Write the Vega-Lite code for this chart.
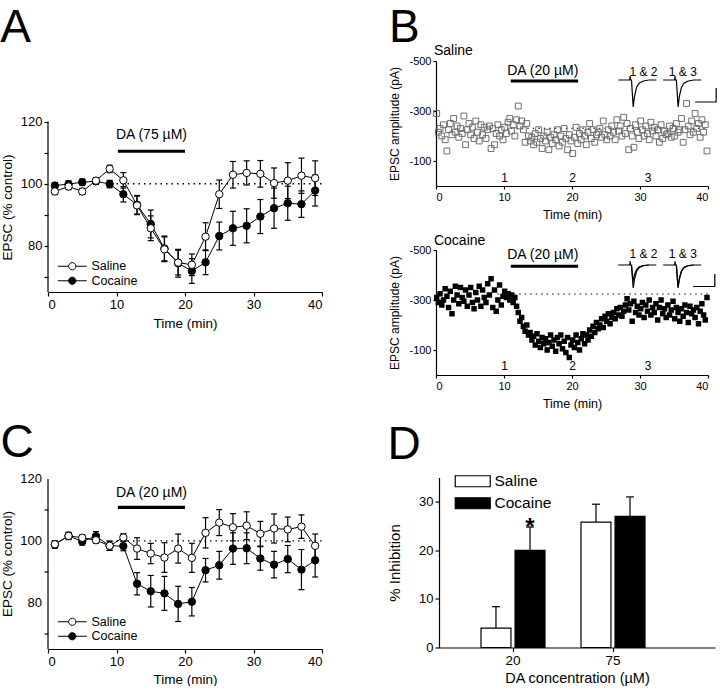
{
"$schema":"https://vega.github.io/schema/vega-lite/v6.json",
"padding":{"left":0,"top":4,"right":0,"bottom":0},
"config":{
 "font":"Liberation Sans",
 "view":{"stroke":null},
 "axis":{"grid":false,"labelOverlap":false,"domainColor":"black","tickColor":"black","labelColor":"black","titleColor":"black","titleFontWeight":"normal","labelFontSize":13,"titleFontSize":13.5,"tickSize":4,"labelPadding":2,"domainWidth":1.2,"tickWidth":1.2,"labelFont":"Liberation Sans","titleFont":"Liberation Sans"},
 "title":{"fontWeight":"normal","anchor":"start","color":"black","font":"Liberation Sans"},
 "legend":{"labelColor":"black","padding":0,"labelFont":"Liberation Sans"},
 "text":{"color":"black","font":"Liberation Sans"}
},
"datasets":{
 "bsal":[
{"t":0.1,"a":-290},{"t":0.35,"a":-215},{"t":0.6,"a":-230},{"t":0.85,"a":-200},{"t":1.1,"a":-245},{"t":1.35,"a":-185},{"t":1.6,"a":-140},{"t":1.85,"a":-225},
{"t":2.1,"a":-250},{"t":2.35,"a":-205},{"t":2.6,"a":-270},{"t":2.85,"a":-215},{"t":3.1,"a":-240},{"t":3.35,"a":-195},{"t":3.6,"a":-230},{"t":3.85,"a":-210},
{"t":4.1,"a":-280},{"t":4.35,"a":-165},{"t":4.6,"a":-225},{"t":4.85,"a":-250},{"t":5.1,"a":-205},{"t":5.35,"a":-235},{"t":5.6,"a":-190},{"t":5.85,"a":-260},
{"t":6.1,"a":-215},{"t":6.35,"a":-180},{"t":6.6,"a":-245},{"t":6.85,"a":-205},{"t":7.1,"a":-235},{"t":7.35,"a":-190},{"t":7.6,"a":-225},{"t":7.85,"a":-240},
{"t":8.1,"a":-150},{"t":8.35,"a":-230},{"t":8.6,"a":-165},{"t":8.85,"a":-210},{"t":9.1,"a":-245},{"t":9.35,"a":-200},{"t":9.6,"a":-225},{"t":9.85,"a":-185},
{"t":10.1,"a":-235},{"t":10.35,"a":-210},{"t":10.6,"a":-255},{"t":10.85,"a":-270},{"t":11.1,"a":-220},{"t":11.35,"a":-245},{"t":11.6,"a":-200},{"t":11.85,"a":-265},
{"t":12.1,"a":-320},{"t":12.35,"a":-240},{"t":12.6,"a":-260},{"t":12.85,"a":-225},{"t":13.1,"a":-175},{"t":13.35,"a":-250},{"t":13.6,"a":-200},{"t":13.85,"a":-180},
{"t":14.1,"a":-195},{"t":14.35,"a":-165},{"t":14.6,"a":-210},{"t":14.85,"a":-175},{"t":15.1,"a":-225},{"t":15.35,"a":-190},{"t":15.6,"a":-150},{"t":15.85,"a":-200},
{"t":16.1,"a":-180},{"t":16.35,"a":-215},{"t":16.6,"a":-145},{"t":16.85,"a":-195},{"t":17.1,"a":-170},{"t":17.35,"a":-205},{"t":17.6,"a":-185},{"t":17.85,"a":-225},
{"t":18.1,"a":-160},{"t":18.35,"a":-200},{"t":18.6,"a":-175},{"t":18.85,"a":-230},{"t":19.1,"a":-190},{"t":19.35,"a":-145},{"t":19.6,"a":-205},{"t":19.85,"a":-180},
{"t":20.1,"a":-130},{"t":20.35,"a":-195},{"t":20.6,"a":-235},{"t":20.85,"a":-170},{"t":21.1,"a":-210},{"t":21.35,"a":-185},{"t":21.6,"a":-225},{"t":21.85,"a":-200},
{"t":22.1,"a":-165},{"t":22.35,"a":-215},{"t":22.6,"a":-250},{"t":22.85,"a":-190},{"t":23.1,"a":-225},{"t":23.35,"a":-175},{"t":23.6,"a":-205},{"t":23.85,"a":-215},
{"t":24.1,"a":-230},{"t":24.35,"a":-195},{"t":24.6,"a":-260},{"t":24.85,"a":-205},{"t":25.1,"a":-185},{"t":25.35,"a":-225},{"t":25.6,"a":-200},{"t":25.85,"a":-240},
{"t":26.1,"a":-215},{"t":26.35,"a":-185},{"t":26.6,"a":-265},{"t":26.85,"a":-220},{"t":27.1,"a":-240},{"t":27.35,"a":-200},{"t":27.6,"a":-275},{"t":27.85,"a":-210},
{"t":28.1,"a":-250},{"t":28.35,"a":-145},{"t":28.6,"a":-230},{"t":28.85,"a":-200},{"t":29.1,"a":-155},{"t":29.35,"a":-245},{"t":29.6,"a":-215},{"t":29.85,"a":-190},
{"t":30.1,"a":-260},{"t":30.35,"a":-225},{"t":30.6,"a":-200},{"t":30.85,"a":-240},{"t":31.1,"a":-210},{"t":31.35,"a":-185},{"t":31.6,"a":-255},{"t":31.85,"a":-220},
{"t":32.1,"a":-235},{"t":32.35,"a":-200},{"t":32.6,"a":-225},{"t":32.85,"a":-175},{"t":33.1,"a":-245},{"t":33.35,"a":-190},{"t":33.6,"a":-220},{"t":33.85,"a":-205},
{"t":34.1,"a":-210},{"t":34.35,"a":-240},{"t":34.6,"a":-195},{"t":34.85,"a":-230},{"t":35.1,"a":-200},{"t":35.35,"a":-250},{"t":35.6,"a":-215},{"t":35.85,"a":-225},
{"t":36.1,"a":-270},{"t":36.35,"a":-175},{"t":36.6,"a":-225},{"t":36.85,"a":-330},{"t":37.1,"a":-240},{"t":37.35,"a":-205},{"t":37.6,"a":-260},{"t":37.85,"a":-215},
{"t":38.1,"a":-290},{"t":38.35,"a":-230},{"t":38.6,"a":-250},{"t":38.85,"a":-195},{"t":39.1,"a":-265},{"t":39.35,"a":-215},{"t":39.6,"a":-245},{"t":39.85,"a":-140}
 ],
 "bcoc":[
{"t":0.1,"a":-310},{"t":0.35,"a":-290},{"t":0.6,"a":-325},{"t":0.85,"a":-280},{"t":1.1,"a":-300},{"t":1.35,"a":-345},{"t":1.6,"a":-315},{"t":1.85,"a":-270},
{"t":2.1,"a":-335},{"t":2.35,"a":-245},{"t":2.6,"a":-300},{"t":2.85,"a":-355},{"t":3.1,"a":-320},{"t":3.35,"a":-285},{"t":3.6,"a":-350},{"t":3.85,"a":-310},
{"t":4.1,"a":-295},{"t":4.35,"a":-340},{"t":4.6,"a":-275},{"t":4.85,"a":-320},{"t":5.1,"a":-350},{"t":5.35,"a":-290},{"t":5.6,"a":-265},{"t":5.85,"a":-330},
{"t":6.1,"a":-300},{"t":6.35,"a":-355},{"t":6.6,"a":-275},{"t":6.85,"a":-340},{"t":7.1,"a":-310},{"t":7.35,"a":-290},{"t":7.6,"a":-365},{"t":7.85,"a":-320},
{"t":8.1,"a":-385},{"t":8.35,"a":-270},{"t":8.6,"a":-340},{"t":8.85,"a":-255},{"t":9.1,"a":-300},{"t":9.35,"a":-360},{"t":9.6,"a":-280},{"t":9.85,"a":-315},
{"t":10.1,"a":-335},{"t":10.35,"a":-310},{"t":10.6,"a":-325},{"t":10.85,"a":-300},{"t":11.1,"a":-320},{"t":11.35,"a":-290},{"t":11.6,"a":-310},{"t":11.85,"a":-275},
{"t":12.1,"a":-250},{"t":12.35,"a":-215},{"t":12.6,"a":-230},{"t":12.85,"a":-195},{"t":13.1,"a":-175},{"t":13.35,"a":-200},{"t":13.6,"a":-160},{"t":13.85,"a":-170},
{"t":14.1,"a":-140},{"t":14.35,"a":-155},{"t":14.6,"a":-120},{"t":14.85,"a":-165},{"t":15.1,"a":-135},{"t":15.35,"a":-110},{"t":15.6,"a":-150},{"t":15.85,"a":-125},
{"t":16.1,"a":-145},{"t":16.35,"a":-100},{"t":16.6,"a":-130},{"t":16.85,"a":-160},{"t":17.1,"a":-115},{"t":17.35,"a":-140},{"t":17.6,"a":-95},{"t":17.85,"a":-150},
{"t":18.1,"a":-125},{"t":18.35,"a":-160},{"t":18.6,"a":-105},{"t":18.85,"a":-135},{"t":19.1,"a":-90},{"t":19.35,"a":-150},{"t":19.6,"a":-70},{"t":19.85,"a":-120},
{"t":20.1,"a":-140},{"t":20.35,"a":-110},{"t":20.6,"a":-160},{"t":20.85,"a":-130},{"t":21.1,"a":-100},{"t":21.35,"a":-145},{"t":21.6,"a":-165},{"t":21.85,"a":-125},
{"t":22.1,"a":-160},{"t":22.35,"a":-140},{"t":22.6,"a":-180},{"t":22.85,"a":-155},{"t":23.1,"a":-195},{"t":23.35,"a":-170},{"t":23.6,"a":-210},{"t":23.85,"a":-185},
{"t":24.1,"a":-200},{"t":24.35,"a":-225},{"t":24.6,"a":-190},{"t":24.85,"a":-235},{"t":25.1,"a":-215},{"t":25.35,"a":-245},{"t":25.6,"a":-205},{"t":25.85,"a":-230},
{"t":26.1,"a":-250},{"t":26.35,"a":-225},{"t":26.6,"a":-265},{"t":26.85,"a":-240},{"t":27.1,"a":-270},{"t":27.35,"a":-235},{"t":27.6,"a":-255},{"t":27.85,"a":-280},
{"t":28.1,"a":-305},{"t":28.35,"a":-260},{"t":28.6,"a":-285},{"t":28.85,"a":-215},{"t":29.1,"a":-295},{"t":29.35,"a":-250},{"t":29.6,"a":-275},{"t":29.85,"a":-240},
{"t":30.1,"a":-265},{"t":30.35,"a":-290},{"t":30.6,"a":-230},{"t":30.85,"a":-280},{"t":31.1,"a":-255},{"t":31.35,"a":-300},{"t":31.6,"a":-240},{"t":31.85,"a":-270},
{"t":32.1,"a":-250},{"t":32.35,"a":-285},{"t":32.6,"a":-220},{"t":32.85,"a":-270},{"t":33.1,"a":-300},{"t":33.35,"a":-245},{"t":33.6,"a":-265},{"t":33.85,"a":-230},
{"t":34.1,"a":-280},{"t":34.35,"a":-240},{"t":34.6,"a":-260},{"t":34.85,"a":-295},{"t":35.1,"a":-225},{"t":35.35,"a":-270},{"t":35.6,"a":-250},{"t":35.85,"a":-215},
{"t":36.1,"a":-265},{"t":36.35,"a":-235},{"t":36.6,"a":-280},{"t":36.85,"a":-250},{"t":37.1,"a":-210},{"t":37.35,"a":-275},{"t":37.6,"a":-245},{"t":37.85,"a":-260},
{"t":38.1,"a":-230},{"t":38.35,"a":-270},{"t":38.6,"a":-205},{"t":38.85,"a":-255},{"t":39.1,"a":-285},{"t":39.35,"a":-240},{"t":39.6,"a":-220},{"t":39.85,"a":-310}
 ],
 "traceS":[
{"id":"s12","o":1,"t":26.8,"a":-424},{"id":"s12","o":2,"t":28.5,"a":-424},{"id":"s12","o":3,"t":28.55,"a":-440},{"id":"s12","o":4,"t":28.6,"a":-424},{"id":"s12","o":5,"t":28.75,"a":-424},{"id":"s12","o":6,"t":29.0,"a":-316},{"id":"s12","o":7,"t":29.2,"a":-360},{"id":"s12","o":8,"t":29.5,"a":-395},{"id":"s12","o":9,"t":29.9,"a":-412},{"id":"s12","o":10,"t":30.5,"a":-420},{"id":"s12","o":11,"t":31.3,"a":-424},{"id":"s12","o":12,"t":32.4,"a":-424},
{"id":"s13","o":1,"t":33.4,"a":-424},{"id":"s13","o":2,"t":35.1,"a":-424},{"id":"s13","o":3,"t":35.15,"a":-440},{"id":"s13","o":4,"t":35.2,"a":-424},{"id":"s13","o":5,"t":35.35,"a":-424},{"id":"s13","o":6,"t":35.6,"a":-316},{"id":"s13","o":7,"t":35.8,"a":-360},{"id":"s13","o":8,"t":36.1,"a":-395},{"id":"s13","o":9,"t":36.5,"a":-412},{"id":"s13","o":10,"t":37.1,"a":-420},{"id":"s13","o":11,"t":37.9,"a":-424},{"id":"s13","o":12,"t":39.0,"a":-424},
{"id":"ssb","o":1,"t":38.1,"a":-336},{"id":"ssb","o":2,"t":41.2,"a":-336},{"id":"ssb","o":3,"t":41.2,"a":-392}
 ],
 "traceC":[
{"id":"c12a","o":1,"t":26.8,"a":-440},{"id":"c12a","o":2,"t":28.5,"a":-440},{"id":"c12a","o":3,"t":28.55,"a":-455},{"id":"c12a","o":4,"t":28.6,"a":-440},{"id":"c12a","o":5,"t":28.75,"a":-440},{"id":"c12a","o":6,"t":29.0,"a":-348},{"id":"c12a","o":7,"t":29.2,"a":-385},{"id":"c12a","o":8,"t":29.5,"a":-415},{"id":"c12a","o":9,"t":29.9,"a":-430},{"id":"c12a","o":10,"t":30.5,"a":-437},{"id":"c12a","o":11,"t":31.3,"a":-440},{"id":"c12a","o":12,"t":32.4,"a":-440},
{"id":"c12b","o":1,"t":28.75,"a":-440},{"id":"c12b","o":2,"t":28.95,"a":-376},{"id":"c12b","o":3,"t":29.2,"a":-402},{"id":"c12b","o":4,"t":29.5,"a":-422},{"id":"c12b","o":5,"t":29.9,"a":-433},{"id":"c12b","o":6,"t":30.5,"a":-438},{"id":"c12b","o":7,"t":31.3,"a":-440},
{"id":"c13a","o":1,"t":33.4,"a":-440},{"id":"c13a","o":2,"t":35.1,"a":-440},{"id":"c13a","o":3,"t":35.15,"a":-455},{"id":"c13a","o":4,"t":35.2,"a":-440},{"id":"c13a","o":5,"t":35.35,"a":-440},{"id":"c13a","o":6,"t":35.6,"a":-348},{"id":"c13a","o":7,"t":35.8,"a":-385},{"id":"c13a","o":8,"t":36.1,"a":-415},{"id":"c13a","o":9,"t":36.5,"a":-430},{"id":"c13a","o":10,"t":37.1,"a":-437},{"id":"c13a","o":11,"t":37.9,"a":-440},{"id":"c13a","o":12,"t":39.0,"a":-440},
{"id":"c13b","o":1,"t":35.35,"a":-440},{"id":"c13b","o":2,"t":35.58,"a":-352},{"id":"c13b","o":3,"t":35.8,"a":-388},{"id":"c13b","o":4,"t":36.1,"a":-417},{"id":"c13b","o":5,"t":36.5,"a":-431},{"id":"c13b","o":6,"t":37.1,"a":-438},{"id":"c13b","o":7,"t":37.9,"a":-440},
{"id":"csb","o":1,"t":37.8,"a":-354},{"id":"csb","o":2,"t":41.0,"a":-354},{"id":"csb","o":3,"t":41.0,"a":-404}
 ],
 "dA":[
{"t":1,"v":99.4,"lo":98.4,"hi":100.4,"g":"Cocaine"},{"t":3,"v":99.9,"lo":98.9,"hi":100.9,"g":"Cocaine"},{"t":5,"v":100.5,"lo":99.5,"hi":101.5,"g":"Cocaine"},{"t":7,"v":100.8,"lo":99.8,"hi":101.8,"g":"Cocaine"},{"t":9,"v":99.9,"lo":98.7,"hi":101.1,"g":"Cocaine"},{"t":11,"v":96.6,"lo":94.1,"hi":99.1,"g":"Cocaine"},{"t":13,"v":93.2,"lo":90.2,"hi":96.2,"g":"Cocaine"},{"t":15,"v":87,"lo":82.5,"hi":91.5,"g":"Cocaine"},{"t":17,"v":79.1,"lo":75.1,"hi":83.1,"g":"Cocaine"},{"t":19,"v":74.3,"lo":69.8,"hi":78.8,"g":"Cocaine"},{"t":21,"v":71.8,"lo":67.8,"hi":75.8,"g":"Cocaine"},{"t":23,"v":74.6,"lo":70.6,"hi":78.6,"g":"Cocaine"},{"t":25,"v":83.1,"lo":78.6,"hi":87.6,"g":"Cocaine"},{"t":27,"v":85.6,"lo":80.1,"hi":91.1,"g":"Cocaine"},{"t":29,"v":86.4,"lo":80.9,"hi":91.9,"g":"Cocaine"},{"t":31,"v":89.4,"lo":83.9,"hi":94.9,"g":"Cocaine"},{"t":33,"v":92.1,"lo":85.6,"hi":98.6,"g":"Cocaine"},{"t":35,"v":93.7,"lo":88.2,"hi":99.2,"g":"Cocaine"},{"t":37,"v":93.4,"lo":89.1,"hi":97.7,"g":"Cocaine"},{"t":39,"v":97.8,"lo":92.8,"hi":102.8,"g":"Cocaine"},
{"t":1,"v":97.5,"lo":96.5,"hi":98.5,"g":"Saline"},{"t":3,"v":99.1,"lo":98.1,"hi":100.1,"g":"Saline"},{"t":5,"v":97.5,"lo":96.5,"hi":98.5,"g":"Saline"},{"t":7,"v":101,"lo":100,"hi":102,"g":"Saline"},{"t":9,"v":104.8,"lo":103.6,"hi":106,"g":"Saline"},{"t":11,"v":101.1,"lo":98.6,"hi":103.6,"g":"Saline"},{"t":13,"v":93,"lo":90,"hi":96,"g":"Saline"},{"t":15,"v":85.6,"lo":81.6,"hi":89.6,"g":"Saline"},{"t":17,"v":78.8,"lo":74.8,"hi":82.8,"g":"Saline"},{"t":19,"v":74.5,"lo":70.5,"hi":78.5,"g":"Saline"},{"t":21,"v":73.8,"lo":70.3,"hi":77.3,"g":"Saline"},{"t":23,"v":82.9,"lo":78.4,"hi":87.4,"g":"Saline"},{"t":25,"v":96.6,"lo":92,"hi":101.2,"g":"Saline"},{"t":27,"v":102.9,"lo":98.6,"hi":107.2,"g":"Saline"},{"t":29,"v":103.5,"lo":99.6,"hi":107.4,"g":"Saline"},{"t":31,"v":103.2,"lo":98.9,"hi":107.5,"g":"Saline"},{"t":33,"v":100.2,"lo":95.3,"hi":105.1,"g":"Saline"},{"t":35,"v":101,"lo":95.2,"hi":106.8,"g":"Saline"},{"t":37,"v":102.6,"lo":96.9,"hi":108.3,"g":"Saline"},{"t":39,"v":101.8,"lo":96.2,"hi":107.4,"g":"Saline"}
 ],
 "dC":[
{"t":1,"v":98.8,"lo":97.6,"hi":100,"g":"Cocaine"},{"t":3,"v":101.6,"lo":100.4,"hi":102.8,"g":"Cocaine"},{"t":5,"v":99.8,"lo":98.6,"hi":101,"g":"Cocaine"},{"t":7,"v":101.5,"lo":100,"hi":103,"g":"Cocaine"},{"t":9,"v":98.4,"lo":96.9,"hi":99.9,"g":"Cocaine"},{"t":11,"v":98.3,"lo":96.8,"hi":99.8,"g":"Cocaine"},{"t":13,"v":86.1,"lo":82.5,"hi":89.7,"g":"Cocaine"},{"t":15,"v":83.7,"lo":78.6,"hi":88.8,"g":"Cocaine"},{"t":17,"v":83,"lo":77.5,"hi":88.5,"g":"Cocaine"},{"t":19,"v":79.6,"lo":73.9,"hi":85.3,"g":"Cocaine"},{"t":21,"v":80.3,"lo":75.7,"hi":84.9,"g":"Cocaine"},{"t":23,"v":90.5,"lo":86.7,"hi":94.3,"g":"Cocaine"},{"t":25,"v":92.1,"lo":87.6,"hi":96.6,"g":"Cocaine"},{"t":27,"v":97.5,"lo":92.4,"hi":102.6,"g":"Cocaine"},{"t":29,"v":97.6,"lo":92.6,"hi":102.6,"g":"Cocaine"},{"t":31,"v":94.3,"lo":90.5,"hi":98.1,"g":"Cocaine"},{"t":33,"v":92.3,"lo":88,"hi":96.6,"g":"Cocaine"},{"t":35,"v":94.1,"lo":89.7,"hi":98.5,"g":"Cocaine"},{"t":37,"v":90.7,"lo":84.2,"hi":97.2,"g":"Cocaine"},{"t":39,"v":93.7,"lo":88.3,"hi":99.1,"g":"Cocaine"},
{"t":1,"v":98.9,"lo":97.9,"hi":99.9,"g":"Saline"},{"t":3,"v":101.6,"lo":100.6,"hi":102.6,"g":"Saline"},{"t":5,"v":101,"lo":100,"hi":102,"g":"Saline"},{"t":7,"v":100.2,"lo":99.2,"hi":101.2,"g":"Saline"},{"t":9,"v":98.4,"lo":96.9,"hi":99.9,"g":"Saline"},{"t":11,"v":101.1,"lo":99.9,"hi":102.3,"g":"Saline"},{"t":13,"v":97.5,"lo":94,"hi":101,"g":"Saline"},{"t":15,"v":95.9,"lo":92.6,"hi":99.2,"g":"Saline"},{"t":17,"v":94.6,"lo":89.8,"hi":99.4,"g":"Saline"},{"t":19,"v":97.5,"lo":92.8,"hi":102.2,"g":"Saline"},{"t":21,"v":94.5,"lo":89.8,"hi":99.2,"g":"Saline"},{"t":23,"v":102.6,"lo":97.7,"hi":107.5,"g":"Saline"},{"t":25,"v":105.9,"lo":101.7,"hi":110.1,"g":"Saline"},{"t":27,"v":104.4,"lo":100,"hi":108.8,"g":"Saline"},{"t":29,"v":104.9,"lo":100.4,"hi":109.4,"g":"Saline"},{"t":31,"v":102.3,"lo":98.3,"hi":106.3,"g":"Saline"},{"t":33,"v":104,"lo":99.3,"hi":108.7,"g":"Saline"},{"t":35,"v":103.7,"lo":99.7,"hi":107.7,"g":"Saline"},{"t":37,"v":104.6,"lo":100.8,"hi":108.4,"g":"Saline"},{"t":39,"v":98.4,"lo":94.6,"hi":102.2,"g":"Saline"}
 ]
},
"spacing":9.5,
"resolve":{"scale":{"fill":"independent"},"legend":{"fill":"independent"}},
"vconcat":[
{
 "spacing":65,
 "resolve":{"scale":{"fill":"independent"},"legend":{"fill":"independent"}},
 "hconcat":[
 {
  "width":274,"height":231,
  "title":{"text":"A","fontSize":46,"offset":9.5,"frame":"bounds"},
  "layer":[
   {"data":{"values":[{"t":0,"v":65,"v2":120}]},"mark":{"type":"rule","strokeWidth":1.2,"color":"black"},
    "encoding":{
     "x":{"field":"t","type":"quantitative","scale":{"domain":[0,40],"nice":false},"axis":{"values":[0,5,10,15,20,25,30,35,40],"labelExpr":"datum.value % 10 == 0 ? datum.label : ''","title":"Time (min)","titlePadding":5,"labelOverlap":false}},
     "y":{"field":"v","type":"quantitative","scale":{"domain":[65,139.68],"nice":false,"zero":false},"axis":{"domain":false,"values":[70,80,90,100,110,120],"labelExpr":"datum.value % 20 == 0 ? datum.label : ''","title":"EPSC (% control)","titlePadding":6,"titleY":146,"labelOverlap":false}},
     "y2":{"field":"v2"}
    }},
   {"data":{"values":[{"t":10,"t2":40,"v":100}]},
    "mark":{"type":"rule","strokeDash":[1.5,4],"strokeWidth":1.3,"color":"black"},
    "encoding":{"x":{"field":"t","type":"quantitative"},"x2":{"field":"t2"},"y":{"field":"v","type":"quantitative"}}},
   {"data":{"values":[{"t":10.2,"t2":20,"v":110.5}]},"mark":{"type":"rule","strokeWidth":3.2,"color":"black"},
    "encoding":{"x":{"field":"t","type":"quantitative"},"x2":{"field":"t2"},"y":{"field":"v","type":"quantitative"}}},
   {"data":{"values":[{"t":15.1,"v":115.9,"s":"DA (75 µM)"}]},"mark":{"type":"text","fontSize":14,"color":"black"},
    "encoding":{"x":{"field":"t","type":"quantitative"},"y":{"field":"v","type":"quantitative"},"text":{"field":"s"}}},
   {"data":{"name":"dA"},
    "layer":[
     {"mark":{"type":"rule","color":"black","strokeWidth":1.2},"encoding":{"x":{"field":"t","type":"quantitative"},"y":{"field":"lo","type":"quantitative"},"y2":{"field":"hi"}}},
     {"mark":{"type":"tick","orient":"horizontal","size":6,"thickness":1.2,"color":"black","opacity":1},"encoding":{"x":{"field":"t","type":"quantitative"},"y":{"field":"lo","type":"quantitative"}}},
     {"mark":{"type":"tick","orient":"horizontal","size":6,"thickness":1.2,"color":"black","opacity":1},"encoding":{"x":{"field":"t","type":"quantitative"},"y":{"field":"hi","type":"quantitative"}}},
     {"mark":{"type":"line","color":"black","strokeWidth":1},"encoding":{"x":{"field":"t","type":"quantitative"},"y":{"field":"v","type":"quantitative"},"detail":{"field":"g"}}},
     {"mark":{"type":"point","shape":"circle","filled":true,"size":55,"stroke":"black","strokeWidth":1,"opacity":1},
      "encoding":{"x":{"field":"t","type":"quantitative"},"y":{"field":"v","type":"quantitative"},
       "fill":{"field":"g","type":"nominal","scale":{"domain":["Saline","Cocaine"],"range":["white","black"]},
        "legend":{"orient":"none","legendX":18,"legendY":199,"title":null,"symbolType":"M-3.6,0H-0.9M0.9,0H3.6M0.9,0A0.9,0.9,0,1,1,-0.9,0A0.9,0.9,0,1,1,0.9,0Z","symbolSize":64,"symbolStrokeColor":"black","symbolStrokeWidth":1,"symbolOpacity":1,"labelFontSize":12.5,"labelOffset":13,"rowPadding":1.5}}}}
    ]}
  ]
 },
 {
  "spacing":12,
  "vconcat":[
  {
   "width":272,"height":125,
   "title":{"text":"B","fontSize":46,"offset":-8.5,"frame":"bounds"},
   "layer":[
    {"data":{"values":[{"t":11,"t2":40,"a":-231}]},"mark":{"type":"rule","strokeDash":[1.5,4],"strokeWidth":1.2,"color":"black"},
     "encoding":{
      "x":{"field":"t","type":"quantitative","scale":{"domain":[0,40],"nice":false},"axis":{"values":[0,5,10,15,20,25,30,35,40],"labelExpr":"datum.value % 10 == 0 ? datum.label : ''","title":"Time (min)","labelFontSize":11,"titleFontSize":12.5,"titlePadding":6,"tickSize":3,"labelOverlap":false}},
      "x2":{"field":"t2"},
      "y":{"field":"a","type":"quantitative","scale":{"domain":[-500,0],"reverse":true,"nice":false},"axis":{"values":[-500,-400,-300,-200,-100,0],"labelExpr":"datum.value == 0 ? '0' : '-' + abs(datum.value)","title":"EPSC amplitude (pA)","labelFontSize":11,"titleFontSize":12,"titlePadding":7,"tickSize":3,"labelOverlap":false}}
     }},
    {"data":{"name":"bsal"},"mark":{"type":"point","shape":"square","filled":false,"size":34,"stroke":"#6e6e6e","strokeWidth":1,"opacity":1},
     "encoding":{"x":{"field":"t","type":"quantitative"},"y":{"field":"a","type":"quantitative"}}},
    {"data":{"values":[{"t":11,"t2":20.9,"a":-420}]},"mark":{"type":"rule","strokeWidth":3.2,"color":"black"},
     "encoding":{"x":{"field":"t","type":"quantitative"},"x2":{"field":"t2"},"y":{"field":"a","type":"quantitative"}}},
    {"data":{"values":[{"t":15.7,"a":-462,"s":"DA (20 µM)"}]},"mark":{"type":"text","fontSize":14},
     "encoding":{"x":{"field":"t","type":"quantitative"},"y":{"field":"a","type":"quantitative"},"text":{"field":"s"}}},
    {"data":{"values":[{"t":-0.3,"a":-542,"s":"Saline"}]},"mark":{"type":"text","fontSize":14,"align":"left"},
     "encoding":{"x":{"field":"t","type":"quantitative"},"y":{"field":"a","type":"quantitative"},"text":{"field":"s"}}},
    {"data":{"values":[{"t":30.5,"a":-457,"s":"1 & 2"},{"t":36.3,"a":-457,"s":"1 & 3"},{"t":10.1,"a":-32,"s":"1"},{"t":20.1,"a":-32,"s":"2"},{"t":31.2,"a":-32,"s":"3"}]},"mark":{"type":"text","fontSize":12},
     "encoding":{"x":{"field":"t","type":"quantitative"},"y":{"field":"a","type":"quantitative"},"text":{"field":"s"}}},
    {"data":{"name":"traceS"},"mark":{"type":"line","color":"black","strokeWidth":1.2},
     "encoding":{"x":{"field":"t","type":"quantitative"},"y":{"field":"a","type":"quantitative"},"detail":{"field":"id"},"order":{"field":"o"}}}
   ]
  },
  {
   "width":272,"height":125,
   "layer":[
    {"data":{"values":[{"t":9,"t2":40,"a":-324}]},"mark":{"type":"rule","strokeDash":[1.5,4],"strokeWidth":1.2,"color":"black"},
     "encoding":{
      "x":{"field":"t","type":"quantitative","scale":{"domain":[0,40],"nice":false},"axis":{"values":[0,5,10,15,20,25,30,35,40],"labelExpr":"datum.value % 10 == 0 ? datum.label : ''","title":"Time (min)","labelFontSize":11,"titleFontSize":12.5,"titlePadding":6,"tickSize":3,"labelOverlap":false}},
      "x2":{"field":"t2"},
      "y":{"field":"a","type":"quantitative","scale":{"domain":[-500,0],"reverse":true,"nice":false},"axis":{"values":[-500,-400,-300,-200,-100,0],"labelExpr":"datum.value == 0 ? '0' : '-' + abs(datum.value)","title":"EPSC amplitude (pA)","labelFontSize":11,"titleFontSize":12,"titlePadding":7,"tickSize":3,"labelOverlap":false}}
     }},
    {"data":{"name":"bcoc"},"mark":{"type":"point","shape":"square","filled":true,"size":30,"color":"black","opacity":1},
     "encoding":{"x":{"field":"t","type":"quantitative"},"y":{"field":"a","type":"quantitative"}}},
    {"data":{"values":[{"t":11,"t2":20.9,"a":-435}]},"mark":{"type":"rule","strokeWidth":3.2,"color":"black"},
     "encoding":{"x":{"field":"t","type":"quantitative"},"x2":{"field":"t2"},"y":{"field":"a","type":"quantitative"}}},
    {"data":{"values":[{"t":15.7,"a":-480,"s":"DA (20 µM)"}]},"mark":{"type":"text","fontSize":14},
     "encoding":{"x":{"field":"t","type":"quantitative"},"y":{"field":"a","type":"quantitative"},"text":{"field":"s"}}},
    {"data":{"values":[{"t":-0.3,"a":-538,"s":"Cocaine"}]},"mark":{"type":"text","fontSize":14,"align":"left"},
     "encoding":{"x":{"field":"t","type":"quantitative"},"y":{"field":"a","type":"quantitative"},"text":{"field":"s"}}},
    {"data":{"values":[{"t":30.5,"a":-486,"s":"1 & 2"},{"t":36.3,"a":-486,"s":"1 & 3"},{"t":10.1,"a":-36,"s":"1"},{"t":20.1,"a":-36,"s":"2"},{"t":31.2,"a":-36,"s":"3"}]},"mark":{"type":"text","fontSize":12},
     "encoding":{"x":{"field":"t","type":"quantitative"},"y":{"field":"a","type":"quantitative"},"text":{"field":"s"}}},
    {"data":{"name":"traceC"},"mark":{"type":"line","color":"black","strokeWidth":1.2},
     "encoding":{"x":{"field":"t","type":"quantitative"},"y":{"field":"a","type":"quantitative"},"detail":{"field":"id"},"order":{"field":"o"}}}
   ]
  }
  ]
 }
 ]
},
{
 "spacing":64,
 "resolve":{"scale":{"fill":"independent"},"legend":{"fill":"independent"}},
 "hconcat":[
 {
  "width":274,"height":171.5,
  "title":{"text":"C","fontSize":46,"offset":6.5,"frame":"bounds"},
  "layer":[
   {"data":{"values":[{"t":0,"v":65,"v2":120}]},"mark":{"type":"rule","strokeWidth":1.2,"color":"black"},
    "encoding":{
     "x":{"field":"t","type":"quantitative","scale":{"domain":[0,40],"nice":false},"axis":{"values":[0,5,10,15,20,25,30,35,40],"labelExpr":"datum.value % 10 == 0 ? datum.label : ''","title":"Time (min)","titlePadding":4,"labelOverlap":false}},
     "y":{"field":"v","type":"quantitative","scale":{"domain":[65,120.5],"nice":false,"zero":false},"axis":{"domain":false,"values":[70,80,90,100,110,120],"labels":false,"title":"EPSC (% control)","titlePadding":29,"titleY":86}},
     "y2":{"field":"v2"}
    }},
   {"data":{"values":[{"v":80,"s":"80"},{"v":100,"s":"100"},{"v":120,"s":"120"}]},"mark":{"type":"text","fontSize":13,"align":"right","baseline":"middle","dx":-6},
    "encoding":{"x":{"datum":0,"type":"quantitative"},"y":{"field":"v","type":"quantitative"},"text":{"field":"s"}}},
   {"data":{"values":[{"t":10,"t2":40,"v":100}]},
    "mark":{"type":"rule","strokeDash":[1.5,4],"strokeWidth":1.3,"color":"black"},
    "encoding":{"x":{"field":"t","type":"quantitative"},"x2":{"field":"t2"},"y":{"field":"v","type":"quantitative"}}},
   {"data":{"values":[{"t":10.2,"t2":20,"v":110.8}]},"mark":{"type":"rule","strokeWidth":3.2,"color":"black"},
    "encoding":{"x":{"field":"t","type":"quantitative"},"x2":{"field":"t2"},"y":{"field":"v","type":"quantitative"}}},
   {"data":{"values":[{"t":15.1,"v":115.4,"s":"DA (20 µM)"}]},"mark":{"type":"text","fontSize":14,"color":"black"},
    "encoding":{"x":{"field":"t","type":"quantitative"},"y":{"field":"v","type":"quantitative"},"text":{"field":"s"}}},
   {"data":{"name":"dC"},
    "layer":[
     {"mark":{"type":"rule","color":"black","strokeWidth":1.2},"encoding":{"x":{"field":"t","type":"quantitative"},"y":{"field":"lo","type":"quantitative"},"y2":{"field":"hi"}}},
     {"mark":{"type":"tick","orient":"horizontal","size":6,"thickness":1.2,"color":"black","opacity":1},"encoding":{"x":{"field":"t","type":"quantitative"},"y":{"field":"lo","type":"quantitative"}}},
     {"mark":{"type":"tick","orient":"horizontal","size":6,"thickness":1.2,"color":"black","opacity":1},"encoding":{"x":{"field":"t","type":"quantitative"},"y":{"field":"hi","type":"quantitative"}}},
     {"mark":{"type":"line","color":"black","strokeWidth":1},"encoding":{"x":{"field":"t","type":"quantitative"},"y":{"field":"v","type":"quantitative"},"detail":{"field":"g"}}},
     {"mark":{"type":"point","shape":"circle","filled":true,"size":55,"stroke":"black","strokeWidth":1,"opacity":1},
      "encoding":{"x":{"field":"t","type":"quantitative"},"y":{"field":"v","type":"quantitative"},
       "fill":{"field":"g","type":"nominal","scale":{"domain":["Saline","Cocaine"],"range":["white","black"]},
        "legend":{"orient":"none","legendX":18,"legendY":138,"title":null,"symbolType":"M-3.6,0H-0.9M0.9,0H3.6M0.9,0A0.9,0.9,0,1,1,-0.9,0A0.9,0.9,0,1,1,0.9,0Z","symbolSize":64,"symbolStrokeColor":"black","symbolStrokeWidth":1,"symbolOpacity":1,"labelFontSize":12.5,"labelOffset":13,"rowPadding":1.5}}}}
    ]}
  ]
 },
 {
  "width":276,"height":170,
  "title":{"text":"D","fontSize":46,"offset":5,"frame":"bounds"},
  "data":{"values":[{"c":"20","g":"Saline","v":4,"hi":8.4},{"c":"20","g":"Cocaine","v":20,"hi":24.8},{"c":"75","g":"Saline","v":25.8,"hi":29.5},{"c":"75","g":"Cocaine","v":27,"hi":31}]},
  "layer":[
   {"mark":{"type":"rule","color":"black","strokeWidth":1.2},
    "encoding":{
     "x":{"field":"c","type":"nominal","scale":{"type":"band","domain":["20","75"],"paddingInner":0.36,"paddingOuter":0.56,"align":0.375},"axis":{"title":"DA concentration (µM)","labelAngle":0,"labelFontSize":13.5,"titleFontSize":14.5,"titlePadding":4,"labelOverlap":false}},
     "xOffset":{"field":"g","type":"nominal","scale":{"domain":["Saline","Cocaine"],"paddingInner":0.12,"paddingOuter":0}},
     "y":{"field":"v","type":"quantitative","scale":{"domain":[0,35],"nice":false},"axis":{"values":[0,5,10,15,20,25,30],"labelExpr":"datum.value % 10 == 0 ? datum.label : ''","title":"% Inhibition","titleFontSize":15,"titlePadding":16,"labelOverlap":false}},
     "y2":{"field":"hi"}}},
   {"mark":{"type":"tick","orient":"horizontal","size":8,"thickness":1.2,"color":"black","opacity":1},
    "encoding":{"x":{"field":"c","type":"nominal"},"xOffset":{"field":"g","type":"nominal","scale":{"domain":["Saline","Cocaine"]}},"y":{"field":"hi","type":"quantitative"}}},
   {"mark":{"type":"bar","stroke":"black","strokeWidth":1.2},
    "encoding":{"x":{"field":"c","type":"nominal"},"xOffset":{"field":"g","type":"nominal","scale":{"domain":["Saline","Cocaine"]}},"y":{"field":"v","type":"quantitative"},
     "fill":{"field":"g","type":"nominal","scale":{"domain":["Saline","Cocaine"],"range":["white","black"]},
      "legend":{"orient":"none","legendX":26,"legendY":-4,"title":null,"symbolType":"M-3.5,-1.1H3.5V1.1H-3.5Z","symbolSize":100,"symbolStrokeColor":"black","symbolStrokeWidth":1.2,"symbolOpacity":1,"labelFontSize":15.5,"labelOffset":14,"rowPadding":4}}}},
   {"data":{"values":[{"c":"20","g":"Cocaine","v":24.6,"s":"*"}]},"mark":{"type":"text","fontSize":24,"fontWeight":"bold","baseline":"middle"},
    "encoding":{"x":{"field":"c","type":"nominal"},"xOffset":{"field":"g","type":"nominal","scale":{"domain":["Saline","Cocaine"]}},"y":{"field":"v","type":"quantitative"},"text":{"field":"s"}}}
  ]
 }
 ]
}
]
}
